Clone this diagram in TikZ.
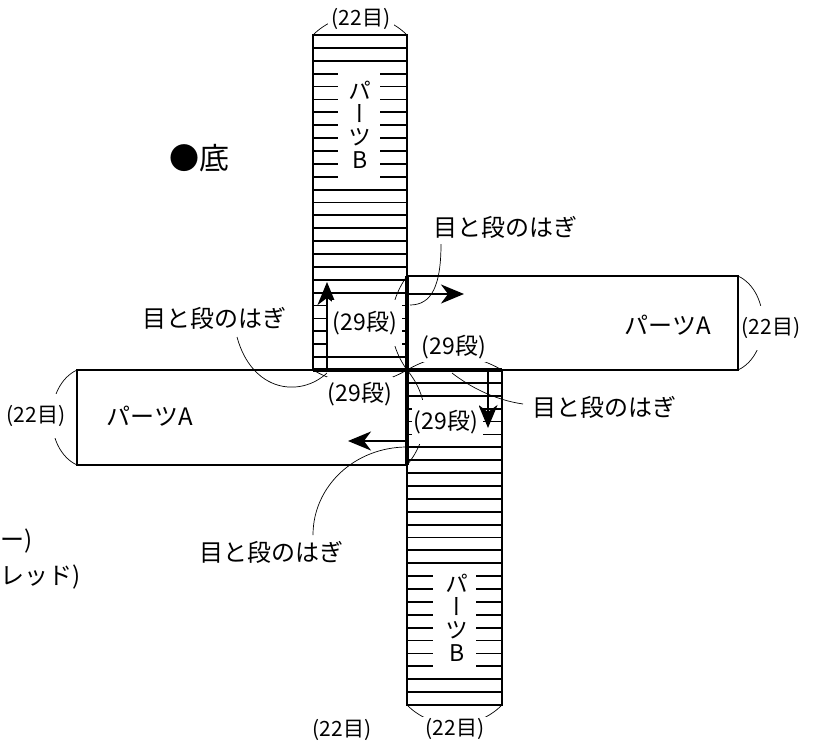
\documentclass[tikz,border=0pt]{standalone}
\usepackage{fontspec}
\setmainfont{Noto Sans CJK JP}
\newfontfamily\vertjp[RawFeature=+vert]{Noto Sans CJK JP}
\usetikzlibrary{arrows.meta}

\tikzset{
    outline/.style={line width=2.2pt},
    seam/.style={line width=3.6pt},
    stripe/.style={line width=1.8pt},
    thinline/.style={line width=0.7pt},
    flow/.style={line width=2pt, -{Stealth[length=23pt, width=19pt, inset=7pt]}},
    dimlabel/.style={fill=white, inner sep=1pt, font=\fontsize{21}{21}\selectfont},
    rowlabel/.style={fill=white, inner sep=1pt, font=\fontsize{23}{23}\selectfont},
    hagi/.style={font=\fontsize{24}{24}\selectfont},
    partlabel/.style={font=\fontsize{24}{24}\selectfont},
    vertlabel/.style={align=center, font=\vertjp\fontsize{23}{23}\selectfont}
}

\begin{document}
\begin{tikzpicture}[x=1pt, y=-1pt]
    \useasboundingbox (0,0) rectangle (814,742);

    % Corners
    \coordinate (BtNW) at (313,35);
    \coordinate (BtNE) at (407,35);
    \coordinate (BtSW) at (313,370);
    \coordinate (Mid) at (407,370);
    \coordinate (ArNW) at (407,276);
    \coordinate (ArNE) at (738,276);
    \coordinate (ArSE) at (738,370);
    \coordinate (AlNW) at (77,370);
    \coordinate (AlSW) at (77,465);
    \coordinate (AlSE) at (407,465);
    \coordinate (BbNE) at (502,370);
    \coordinate (BbSW) at (407,705);
    \coordinate (BbSE) at (502,705);

    % Part B (top): rows
    \foreach \k in {1,2,12,13,...,20,25}
        \draw[stripe] (313,35+12.885*\k) -- (407,35+12.885*\k);
    \foreach \k in {3,4,...,11} {
        \draw[stripe] (313,35+12.885*\k) -- (338,35+12.885*\k);
        \draw[stripe] (380,35+12.885*\k) -- (407,35+12.885*\k);
    }
    \foreach \k in {21,22,23,24} {
        \draw[stripe] (313,35+12.885*\k) -- (327,35+12.885*\k);
        \draw[stripe] (402,35+12.885*\k) -- (407,35+12.885*\k);
    }

    % Part B (bottom): rows
    \foreach \k in {1,2,6,7,...,15,24,25}
        \draw[stripe] (407,370+12.885*\k) -- (502,370+12.885*\k);
    \foreach \k in {3,4,5} {
        \draw[stripe] (407,370+12.885*\k) -- (412,370+12.885*\k);
        \draw[stripe] (483,370+12.885*\k) -- (502,370+12.885*\k);
    }
    \foreach \k in {16,17,...,23} {
        \draw[stripe] (407,370+12.885*\k) -- (433,370+12.885*\k);
        \draw[stripe] (476,370+12.885*\k) -- (502,370+12.885*\k);
    }

    % Parts
    \draw[outline] (BtNW) rectangle (Mid);
    \draw[outline] (ArNW) rectangle (ArSE);
    \draw[outline] (AlNW) rectangle (AlSE);
    \draw[outline] (Mid) rectangle (BbSE);

    % Seams
    \draw[seam] (ArNW) -- (AlSE);
    \draw[seam] (BtSW) -- (BbNE);

    % Knitting directions
    \coordinate (upFoot) at (327,370);
    \coordinate (upTip) at (327,282);
    \coordinate (rightFoot) at (407,294);
    \coordinate (rightTip) at (464,294);
    \coordinate (downFoot) at (488,370);
    \coordinate (downTip) at (488,428);
    \coordinate (leftFoot) at (407,441);
    \coordinate (leftTip) at (348,441);
    \draw[flow] (upFoot) -- (upTip);
    \draw[flow] (rightFoot) -- (rightTip);
    \draw[flow] (downFoot) -- (downTip);
    \draw[flow] (leftFoot) -- (leftTip);

    % Widths (22 stitches)
    \draw[thinline] (BtNW) to[bend left=45] (BtNE);
    \draw[thinline] (ArNE) to[bend left=65] (ArSE);
    \draw[thinline] (AlSW) to[bend left=65] (AlNW);
    \draw[thinline] (BbSE) to[bend left=45] (BbSW);
    \node[dimlabel, minimum width=66pt] (wBt) at (361,19) {(22目)};
    \node[dimlabel, minimum height=44pt] (wAr) at (771,328) {(22目)};
    \node[dimlabel, minimum height=44pt] (wAl) at (36,416) {(22目)};
    \node[dimlabel, minimum width=66pt] (wBb) at (455,729) {(22目)};

    % Seam lengths (29 rows)
    \draw[thinline] (ArNW) to[bend right=35] (Mid);
    \draw[thinline] (Mid) to[bend left=30] (BtSW);
    \draw[thinline] (Mid) to[bend left=30] (BbNE);
    \draw[thinline] (Mid) to[bend left=40] (AlSE);
    \node[rowlabel, minimum height=46pt] (rUp) at (365,323) {(29段)};
    \node[rowlabel, minimum height=34pt, minimum width=62pt] (rLeft) at (360,394) {(29段)};
    \node[rowlabel, minimum height=30pt, minimum width=70pt] (rRight) at (454,347) {(29段)};
    \node[rowlabel, minimum height=44pt] (rDown) at (446,422) {(29段)};

    % Joins
    \node[hagi] (hagiTR) at (505,227) {目と段のはぎ};
    \node[hagi] (hagiL) at (214,318) {目と段のはぎ};
    \node[hagi] (hagiR) at (604,407) {目と段のはぎ};
    \node[hagi] (hagiB) at (271,552) {目と段のはぎ};
    \draw[thinline] (441,244) .. controls (441,285) and (432,305) .. (410,305);
    \draw[thinline] (237,337) .. controls (252,392) and (300,398) .. (327,373);
    \draw[thinline] (523,404) .. controls (495,400) and (470,387) .. (452,373);
    \draw[thinline] (313,535) .. controls (313,486) and (355,447) .. (407,447);

    % Part names
    \node[partlabel] (partAr) at (668,325) {パーツA};
    \node[partlabel] (partAl) at (150,416) {パーツA};
    \node[vertlabel] (partBt) at (360,125) {パ\\ー\\ツ\\B};
    \node[vertlabel] (partBb) at (457,618) {パ\\ー\\ツ\\B};

    % Title
    \node[font=\fontsize{30}{30}\selectfont] (title) at (199,158) {●底};

    % Left over from neighbouring notes
    \node[hagi, anchor=west, inner sep=0pt] (noteA) at (0,541) {ー)};
    \node[hagi, anchor=west, inner sep=0pt] (noteB) at (0,577) {レッド)};
    \node[dimlabel, fill=none] (noteC) at (342,730) {(22目)};

\end{tikzpicture}
\end{document}
